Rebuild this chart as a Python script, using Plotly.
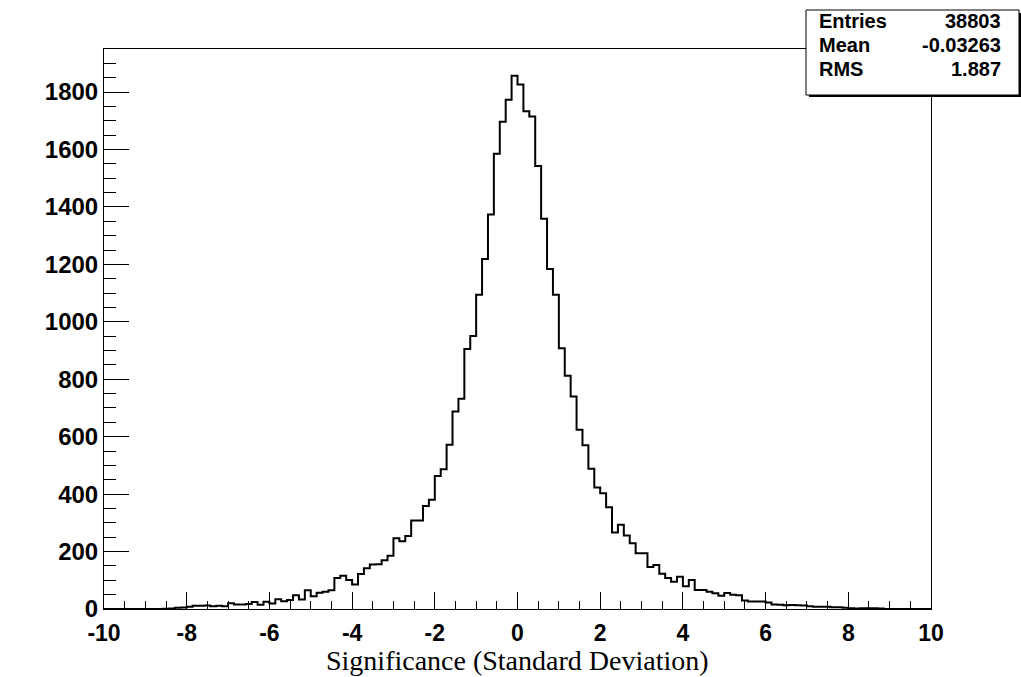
import numpy as np
import plotly.graph_objects as go

# Histogram: 140 bins from -10 to 10 (bin width 1/7)
x_min, x_max, n_bins = -10.0, 10.0, 140
counts = [
    0, 0, 0, 0, 0, 0, 0, 0, 0, 0,
    1, 2, 4, 5, 8, 11, 11, 12, 10, 11,
    10, 20, 16, 16, 17, 24, 15, 25, 19, 34,
    27, 31, 48, 33, 65, 44, 57, 60, 65, 108,
    116, 101, 85, 122, 142, 155, 156, 170, 185, 246,
    236, 254, 308, 308, 359, 380, 463, 487, 572, 688,
    732, 905, 951, 1094, 1219, 1374, 1585, 1697, 1773, 1857,
    1826, 1733, 1715, 1543, 1359, 1184, 1094, 908, 812, 740,
    624, 570, 488, 423, 403, 354, 266, 293, 256, 229,
    194, 194, 146, 153, 123, 108, 95, 112, 79, 101,
    66, 66, 60, 55, 46, 56, 50, 48, 30, 26,
    26, 26, 23, 16, 15, 13, 14, 13, 12, 10,
    8, 8, 8, 6, 6, 4, 3, 2, 3, 3,
    3, 2, 0, 0, 0, 0, 0, 0, 0, 0,
]
x_ticks = [-10, -8, -6, -4, -2, 0, 2, 4, 6, 8, 10]
x_ticklabels = ["-10", "-8", "-6", "-4", "-2", "0", "2", "4", "6", "8", "10"]
y_ticks = [0, 200, 400, 600, 800, 1000, 1200, 1400, 1600, 1800]
y_ticklabels = ["0", "200", "400", "600", "800", "1000", "1200", "1400", "1600", "1800"]
y_max = 1950
x_title = "Significance (Standard Deviation)"
stats_labels = ["Entries", "Mean", "RMS"]
stats_values = ["38803", "-0.03263", "1.887"]

edges = np.linspace(x_min, x_max, n_bins + 1)
ys = list(counts) + [counts[-1]]

fig = go.Figure()
fig.add_trace(go.Scatter(
    x=edges, y=ys, mode="lines", line=dict(shape="hv", color="black", width=2),
    hoverinfo="skip", showlegend=False,
))

W, H = 1021, 677
L, R, T, B = 104, 931, 49, 609
pw, ph = R - L, B - T

def px(xp):
    return (xp - L) / pw

def py(yp):
    return (B - yp) / ph

x_tick_font = dict(family="Liberation Sans, Arial, sans-serif", size=23, color="black", weight="bold")
y_tick_font = dict(family="Liberation Sans, Arial, sans-serif", size=24, color="black", weight="bold")

fig.update_layout(
    width=W, height=H,
    margin=dict(l=L, r=W - R, t=T, b=H - B, pad=0),
    paper_bgcolor="white", plot_bgcolor="white",
    showlegend=False,
    xaxis=dict(
        range=[x_min, x_max], tickvals=x_ticks, ticktext=x_ticklabels,
        ticks="inside", ticklen=17, tickwidth=1, ticklabelstandoff=3,
        tickcolor="black", showline=True, linecolor="black", linewidth=1, mirror=True,
        showgrid=False, zeroline=False, tickfont=x_tick_font,
        minor=dict(dtick=0.5, tick0=0, ticks="inside", ticklen=8, tickcolor="black", tickwidth=1, showgrid=False),
    ),
    yaxis=dict(
        range=[0, y_max], tickvals=y_ticks, ticktext=y_ticklabels,
        ticks="inside", ticklen=25, tickwidth=1,
        tickcolor="black", showline=True, linecolor="black", linewidth=1, mirror=True,
        showgrid=False, zeroline=False, tickfont=y_tick_font,
        minor=dict(dtick=50, tick0=0, ticks="inside", ticklen=12, tickcolor="black", tickwidth=1, showgrid=False),
    ),
)

# X axis title
fig.add_annotation(
    x=0.5, y=py(660), xref="paper", yref="paper", text=x_title, showarrow=False,
    xanchor="center", yanchor="middle",
    font=dict(family="Liberation Serif, Times New Roman, serif", size=28, color="black"),
)

# Stats box with shadow
bx0, bx1, by0, by1 = 806, 1019, 10, 95
fig.add_shape(type="rect", xref="paper", yref="paper",
              x0=px(bx0 + 3), x1=px(bx1 + 2), y0=py(by0 + 3), y1=py(by1 + 2),
              fillcolor="black", line=dict(width=0), layer="above")
fig.add_shape(type="rect", xref="paper", yref="paper",
              x0=px(bx0), x1=px(bx1), y0=py(by0), y1=py(by1),
              fillcolor="white", line=dict(color="black", width=1), layer="above")
row_y = [21, 45, 69]
stat_font = dict(family="Liberation Sans, Arial, sans-serif", size=20, color="black", weight="bold")
for lab, val, ry in zip(stats_labels, stats_values, row_y):
    fig.add_annotation(x=px(817), y=py(ry), xref="paper", yref="paper", text=lab,
                       showarrow=False, xanchor="left", yanchor="middle", font=stat_font)
    fig.add_annotation(x=px(1003), y=py(ry), xref="paper", yref="paper", text=val,
                       showarrow=False, xanchor="right", yanchor="middle", font=stat_font)

fig.write_html("out.html")
